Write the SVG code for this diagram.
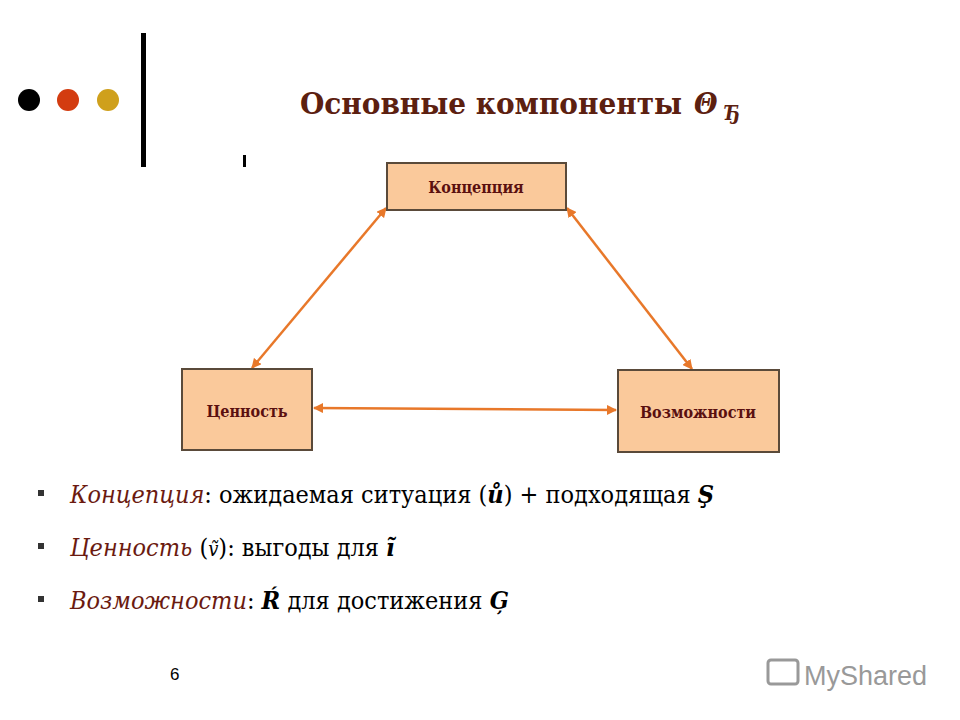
<svg xmlns="http://www.w3.org/2000/svg" width="960" height="720" viewBox="0 0 960 720">
<style>
.box{fill:#fac99b;stroke:#5a4a3a;stroke-width:2}
.bt{font-family:'DejaVu Serif Condensed','DejaVu Serif',serif;font-weight:bold;font-size:16px;fill:#5a1010;text-anchor:middle}
.con{stroke:#e8782a;stroke-width:2.5;fill:none;marker-start:url(#a);marker-end:url(#a)}
.li{font-family:'DejaVu Serif Condensed','DejaVu Serif',serif;font-size:25px;fill:#000}
.it{font-style:italic;fill:#6b1a10}
.bul{fill:#333}
</style>
<defs><marker id="a" viewBox="0 0 10 10" refX="9" refY="5" markerWidth="4" markerHeight="4" orient="auto-start-reverse"><path d="M0,0L10,5L0,10z" fill="#e8782a"/></marker></defs>
<rect width="960" height="720" fill="#fff"/>
<circle cx="29" cy="100" r="11" fill="#000"/>
<circle cx="68" cy="100" r="11" fill="#d33c10"/>
<circle cx="108" cy="100" r="11" fill="#cfa01c"/>
<rect x="141" y="33" width="5" height="134" fill="#000"/>
<rect x="243" y="155" width="3" height="12" fill="#000"/>
<text x="300" y="114" style="font-family:'DejaVu Serif Condensed','DejaVu Serif',serif;font-weight:bold;font-size:30px;fill:#5c2010"><tspan textLength="382" lengthAdjust="spacingAndGlyphs">Основные компоненты</tspan></text>
<text x="694" y="114" style="font-family:'DejaVu Serif Condensed','DejaVu Serif',serif;font-weight:bold;font-style:italic;font-size:30px;fill:#5c2010">Θ</text>
<text x="724" y="120" style="font-family:'DejaVu Serif Condensed','DejaVu Serif',serif;font-weight:bold;font-style:italic;font-size:20px;fill:#5c2010">Ђ</text>
<g id="connectors">
<line class="con" x1="252" y1="368" x2="386" y2="208"/>
<line class="con" x1="567" y1="208" x2="692" y2="369"/>
<line class="con" x1="314" y1="408" x2="616" y2="410"/>
</g>
<g id="n1"><rect class="box" x="387" y="163" width="179" height="47"/><text class="bt" x="476" y="193">Концепция</text></g>
<g id="n2"><rect class="box" x="182" y="369" width="130" height="81"/><text class="bt" x="247" y="417">Ценность</text></g>
<g id="n3"><rect class="box" x="618" y="370" width="161" height="82"/><text class="bt" x="698" y="418">Возможности</text></g>
<rect class="bul" x="38" y="490" width="6" height="6"/>
<rect class="bul" x="38" y="543" width="6" height="6"/>
<rect class="bul" x="38" y="596" width="6" height="6"/>
<text class="li" x="70" y="503"><tspan class="it">Концепция</tspan>: ожидаемая ситуация (<tspan font-weight="bold" font-style="italic">ů</tspan>) +  подходящая <tspan font-weight="bold" font-style="italic">Ş</tspan></text>
<text class="li" x="70" y="556"><tspan class="it">Ценность</tspan> (<tspan font-style="italic" font-size="20">ṽ</tspan>): выгоды для <tspan font-weight="bold" font-style="italic">ĩ</tspan></text>
<text class="li" x="70" y="609"><tspan class="it">Возможности</tspan>: <tspan font-weight="bold" font-style="italic">Ŕ</tspan> для достижения <tspan font-weight="bold" font-style="italic">Ģ</tspan></text>
<text x="170" y="680" style="font-family:'Liberation Sans',Arial,sans-serif;font-size:17px">6</text>
<rect x="768" y="660" width="30" height="24" rx="3" fill="none" stroke="#999" stroke-width="3"/>
<text x="804" y="685" style="font-family:'Liberation Sans',Arial,sans-serif;font-size:27px;fill:#999">MyShared</text>
</svg>
